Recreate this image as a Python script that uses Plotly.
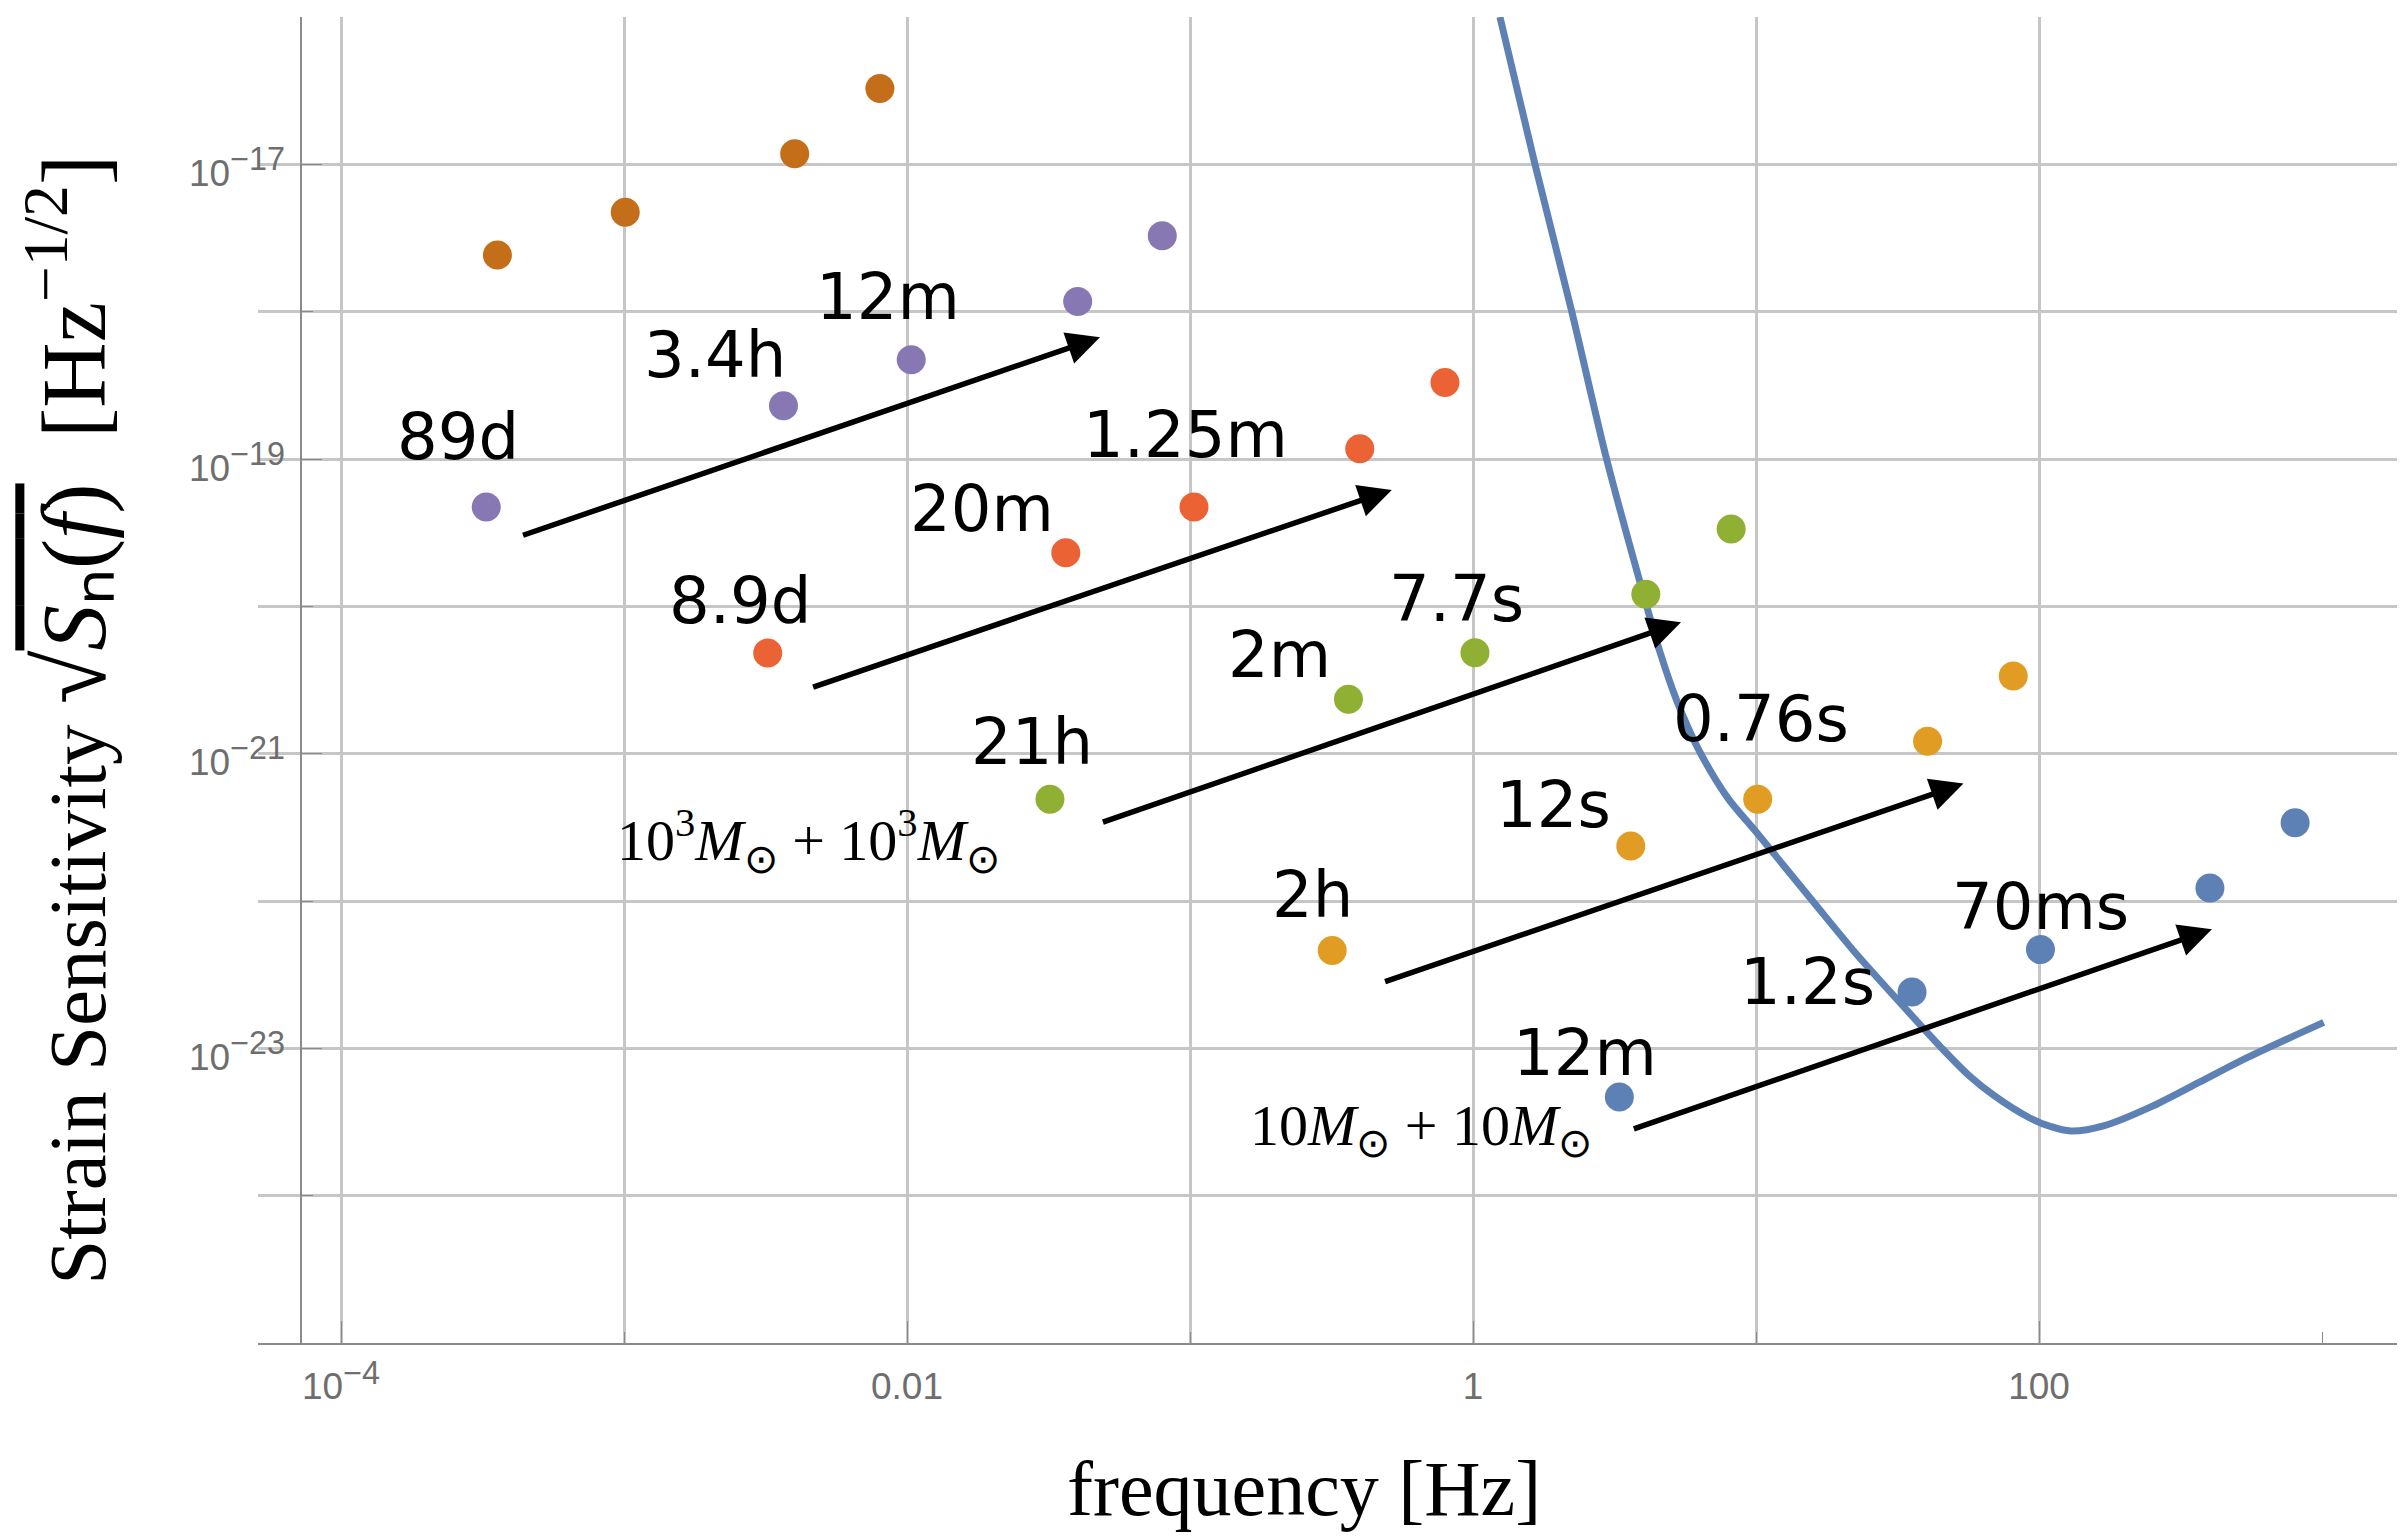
import numpy as np
import plotly.graph_objects as go

# ---------------- data ----------------
# binary tracks: gravitational-wave frequency [Hz] and strain at marked times
f_brown = [3.57e-4, 1.01e-3, 4.01e-3, 8.02e-3]
h_brown = [2.42e-18, 4.73e-18, 1.18e-17, 3.27e-17]
t_brown = []

f_purple = [3.26e-4, 3.66e-3, 1.035e-2, 4.01e-2, 7.98e-2]
h_purple = [4.73e-20, 2.30e-19, 4.72e-19, 1.17e-18, 3.27e-18]
t_purple = ["89d", "3.4h", "12m"]

f_red = [3.22e-3, 3.64e-2, 0.1033, 0.398, 0.796]
h_red = [4.82e-21, 2.31e-20, 4.73e-20, 1.175e-19, 3.30e-19]
t_red = ["8.9d", "20m", "1.25m"]

f_green = [3.20e-2, 0.363, 1.016, 4.08, 8.17]
h_green = [4.90e-22, 2.34e-21, 4.85e-21, 1.21e-20, 3.35e-20]
t_green = ["21h", "2m", "7.7s"]

f_gold = [0.318, 3.61, 10.14, 40.4, 81.1]
h_gold = [4.62e-23, 2.36e-22, 4.90e-22, 1.213e-21, 3.37e-21]
t_gold = ["2h", "12s", "0.76s"]

f_blue = [3.29, 35.6, 101.2, 401.8, 803.5]
h_blue = [4.67e-24, 2.41e-23, 4.68e-23, 1.225e-22, 3.40e-22]
t_blue = ["12m", "1.2s", "70ms"]

# detector sensitivity curve
curve_f = [1.245, 1.656, 2.234, 2.965, 4.111, 4.560, 5.248, 6.223, 7.943, 10.0,
           15.85, 22.39, 31.92, 45.39, 56.23, 69.66, 91.41, 109.6, 129.7, 170.2,
           250.6, 370.7, 548.3, 1014.0]
curve_h = [1e-16, 1e-17, 1e-18, 1e-19, 1e-20, 5.01e-21, 2.29e-21, 1.096e-21, 5.01e-22, 2.95e-22,
           1e-22, 4.47e-23, 2.09e-23, 1e-23, 6.61e-24, 4.75e-24, 3.42e-24, 2.95e-24, 2.75e-24, 2.99e-24,
           4.04e-24, 5.92e-24, 8.71e-24, 1.50e-23]

# evolution arrows (tail -> head)
arrow_f_tail = [4.345e-4, 4.603e-3, 4.864e-2, 0.4831, 3.656]
arrow_h_tail = [3.013e-20, 2.81e-21, 3.40e-22, 2.81e-23, 2.82e-24]
arrow_f_head = [4.808e-2, 0.5164, 5.433, 54.08, 408.3]
arrow_h_head = [6.70e-19, 6.17e-20, 7.80e-21, 6.27e-22, 6.43e-23]

# mass labels
mass_green = "10<sup>3</sup><i>M</i><sub>⊙</sub> + 10<sup>3</sup><i>M</i><sub>⊙</sub>"
mass_blue = "10<i>M</i><sub>⊙</sub> + 10<i>M</i><sub>⊙</sub>"

# axis ticks
SUP = "10<sup><span style='font-size:125%'>{}</span></sup>"
x_major = [1e-4, 1e-2, 1, 100]
x_major_text = [SUP.format("−4"), "0.01", "1", "100"]
x_minor = [1e-3, 1e-1, 10]
y_major = [1e-17, 1e-19, 1e-21, 1e-23, 1e-25]
y_major_text = [SUP.format("−17"), SUP.format("−19"), SUP.format("−21"), SUP.format("−23"), ""]
y_minor = [1e-18, 1e-20, 1e-22, 1e-24]

# ---------------- styling ----------------
C_BLUE, C_GOLD, C_GREEN = "#5E81B5", "#E19C24", "#8FB032"
C_RED, C_PURPLE, C_BROWN = "#EB6235", "#8778B3", "#C56E1A"
GRID = "#c6c6c6"
AXC = "#8a8a8a"
TICKC = "#6e6e6e"
LABEL_FONT = dict(family="DejaVu Sans, Verdana, sans-serif", size=64, color="black")
SERIF = "Liberation Serif, Times New Roman, serif"
YAXIS_POS = 0.02

series = [
    (f_brown, h_brown, t_brown, C_BROWN, []),
    (f_purple, h_purple, t_purple, C_PURPLE, [(-28, 70), (-68, 51), (-23, 63)]),
    (f_red, h_red, t_red, C_RED, [(-28, 52), (-84, 44), (-8, 72)]),
    (f_green, h_green, t_green, C_GREEN, [(-18, 57), (-69, 44), (-18, 54)]),
    (f_gold, h_gold, t_gold, C_GOLD, [(-20, 55), (-77, 41), (3, 80)]),
    (f_blue, h_blue, t_blue, C_BLUE, [(-34, 44), (-105, 10), (0, 43)]),
]

XR = [-4.2933, 3.2933]
YR = [-25, -16]

fig = go.Figure()

fig.add_trace(go.Scatter(x=curve_f, y=curve_h, mode="lines",
                         line=dict(color=C_BLUE, width=7, shape="spline", smoothing=0.8),
                         hoverinfo="skip"))

annotations = []
for f, h, labels, color, offs in series:
    fig.add_trace(go.Scatter(x=f, y=h, mode="markers",
                             marker=dict(color=color, size=29, line=dict(width=0)),
                             hoverinfo="skip"))
    for i, lab in enumerate(labels):
        dx, dy = offs[i]
        annotations.append(dict(x=np.log10(f[i]), y=np.log10(h[i]), xref="x", yref="y",
                                text=lab, showarrow=False, xanchor="center", yanchor="middle",
                                xshift=dx, yshift=dy, font=LABEL_FONT))

for ft, ht, fh, hh in zip(arrow_f_tail, arrow_h_tail, arrow_f_head, arrow_h_head):
    annotations.append(dict(x=np.log10(fh), y=np.log10(hh), ax=np.log10(ft), ay=np.log10(ht),
                            xref="x", yref="y", axref="x", ayref="y", text="",
                            showarrow=True, arrowhead=2, arrowsize=1.2, arrowwidth=5.5,
                            arrowcolor="black", standoff=0, startstandoff=0))

# mass labels, anchored to the first point of their track
annotations.append(dict(x=np.log10(f_green[0]), y=np.log10(h_green[0]), xref="x", yref="y",
                        text=mass_green, showarrow=False, xanchor="center", yanchor="middle",
                        xshift=-241, yshift=-42, font=dict(family=SERIF, size=58, color="black")))
annotations.append(dict(x=np.log10(f_blue[0]), y=np.log10(h_blue[0]), xref="x", yref="y",
                        text=mass_blue, showarrow=False, xanchor="center", yanchor="middle",
                        xshift=-198, yshift=-32, font=dict(family=SERIF, size=58, color="black")))

# y tick labels placed just left of the (free-positioned) y axis line
tickfont = dict(family="Liberation Sans, Arial, sans-serif", size=37, color=TICKC)
for v, txt in zip(y_major, y_major_text):
    if txt:
        annotations.append(dict(x=YAXIS_POS, y=np.log10(v), xref="paper", yref="y", text=txt,
                                showarrow=False, xanchor="right", yanchor="middle",
                                xshift=-14, yshift=-3, font=tickfont))

# axis titles
annotations.append(dict(x=0.4872, y=-0.110, xref="paper", yref="paper",
                        text="frequency [Hz]", showarrow=False, xanchor="center", yanchor="middle",
                        font=dict(family=SERIF, size=78, color="black")))
ytitle = ("Strain Sensitivity "
          "<span style='font-size:112%'><span style='font-size:108%'>√</span>"
          "<span style='text-decoration:overline'><i>S</i>ₙ(<i>f</i>)</span>"
          "\u2002[Hz<sup>−1/2</sup>]</span>")
annotations.append(dict(x=-0.0885, y=0.4700, xref="paper", yref="paper", text=ytitle,
                        showarrow=False, textangle=-90, xanchor="center", yanchor="middle",
                        font=dict(family=SERIF, size=81, color="black")))

# helper trace for the overlay axes carrying the extra end ticks
fig.add_trace(go.Scatter(x=[1000], y=[1e-20], xaxis="x2", yaxis="y2", mode="markers",
                         marker=dict(opacity=0), hoverinfo="skip"))

# the page body has an 8px default margin, so the figure is 8px smaller than the window
fig.update_layout(
    width=2397, height=1529,
    margin=dict(l=250, r=0, t=9, b=194, autoexpand=False),
    paper_bgcolor="white", plot_bgcolor="white",
    showlegend=False,
    annotations=annotations,
    xaxis=dict(type="log", range=XR, tickmode="array", tickvals=x_major, ticktext=x_major_text,
               ticks="inside", ticklen=22, tickwidth=1.3, tickcolor=AXC,
               showgrid=True, gridcolor=GRID, gridwidth=3,
               minor=dict(tickmode="array", tickvals=x_minor, ticks="inside", ticklen=11,
                          tickwidth=1.3, tickcolor=AXC, showgrid=True, gridcolor=GRID, gridwidth=3),
               showline=True, linecolor=AXC, linewidth=1.5, zeroline=False,
               ticklabelstandoff=10, tickfont=tickfont),
    yaxis=dict(type="log", range=YR, anchor="free", position=YAXIS_POS, side="left",
               tickmode="array", tickvals=y_major, showticklabels=False,
               ticks="inside", ticklen=20, tickwidth=1.3, tickcolor=AXC,
               showgrid=True, gridcolor=GRID, gridwidth=3,
               minor=dict(tickmode="array", tickvals=y_minor, ticks="inside", ticklen=11,
                          tickwidth=1.3, tickcolor=AXC, showgrid=True, gridcolor=GRID, gridwidth=3),
               showline=True, linecolor=AXC, linewidth=1.5, zeroline=False),
    xaxis2=dict(type="log", range=XR, overlaying="x", anchor="y", side="bottom",
                tickmode="array", tickvals=[1000], ticks="inside", ticklen=11, tickwidth=1.3,
                tickcolor=AXC, showticklabels=False, showgrid=False, showline=False, zeroline=False),
    yaxis2=dict(type="log", range=YR, overlaying="y", anchor="free", position=YAXIS_POS, side="left",
                tickmode="array", tickvals=[1e-16], ticks="inside", ticklen=11, tickwidth=1.3,
                tickcolor=AXC, showticklabels=False, showgrid=False, showline=False, zeroline=False),
)

fig.write_html("out.html")
